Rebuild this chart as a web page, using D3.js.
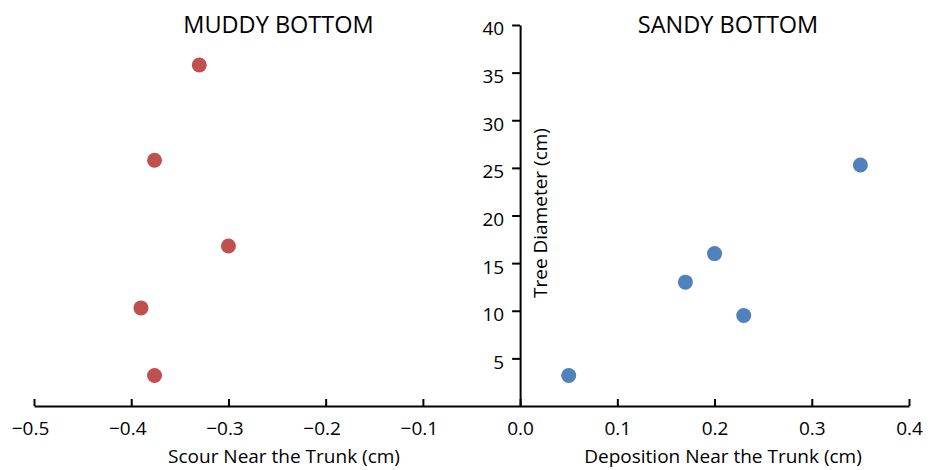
<!DOCTYPE html>
<html>
<head>
<meta charset="utf-8">
<script src="https://cdn.jsdelivr.net/npm/d3@7"></script>
<style>
  body { margin: 0; background: #fff; }
  text { font-family: "Open Sans", sans-serif; fill: #000; }
</style>
</head>
<body>
<svg id="chart"></svg>
<script>
/* data */
let muddyScour = [-0.33, -0.376, -0.30, -0.39, -0.376];
let muddyDiameter = [35.8, 25.8, 16.8, 10.3, 3.2];

let sandyDeposition = [0.05, 0.17, 0.20, 0.23, 0.35];
let sandyDiameter = [3.2, 13.0, 16.0, 9.5, 25.3];

let xTicks = [-0.5, -0.4, -0.3, -0.2, -0.1, 0.0, 0.1, 0.2, 0.3, 0.4];
let yTicks = [5, 10, 15, 20, 25, 30, 35, 40];

/* chart */
!(function() {
  let width = 942;
  let height = 470;

  let svg = d3.select("#chart")
    .attr("width", width)
    .attr("height", height);

  let x = d3.scaleLinear()
    .domain([-0.5, 0.4])
    .range([34, 909]);
  let y = d3.scaleLinear()
    .domain([0, 40])
    .range([406, 25]);

  let fmt = d3.format(".1f");

  // x axis, ticks pointing up
  let xAxis = svg.append("g")
    .attr("transform", "translate(0," + y(0) + ")")
    .call(d3.axisTop(x)
      .tickValues(xTicks)
      .tickSizeInner(7)
      .tickSizeOuter(0)
      .tickFormat(d => fmt(d).replace("-", "\u2013")));
  xAxis.select(".domain").attr("stroke-width", 2);
  xAxis.selectAll(".tick line").attr("stroke-width", 2);
  xAxis.selectAll(".tick text")
    .attr("y", 29)
    .attr("dy", 0)
    .attr("dx", d => d < 0 ? -4 : 0)
    .style("font-size", "19px")
    .style("font-family", "'Open Sans', sans-serif");

  // y axis at x = 0
  let yAxis = svg.append("g")
    .attr("transform", "translate(" + x(0) + ",0)")
    .call(d3.axisLeft(y)
      .tickValues(yTicks)
      .tickSizeInner(8)
      .tickSizeOuter(0));
  yAxis.select(".domain").attr("stroke-width", 2);
  yAxis.selectAll(".tick line").attr("stroke-width", 2);
  yAxis.selectAll(".tick text")
    .attr("x", -16)
    .attr("dy", "0.52em")
    .style("font-size", "19px")
    .style("font-family", "'Open Sans', sans-serif");

  // points
  svg.append("g").selectAll("circle")
    .data(muddyScour)
    .enter().append("circle")
    .attr("cx", d => x(d))
    .attr("cy", (d, i) => y(muddyDiameter[i]))
    .attr("r", 7.5)
    .style("fill", "#c0504d");

  svg.append("g").selectAll("circle")
    .data(sandyDeposition)
    .enter().append("circle")
    .attr("cx", d => x(d))
    .attr("cy", (d, i) => y(sandyDiameter[i]))
    .attr("r", 7.5)
    .style("fill", "#4f81bd");

  // titles
  svg.append("text")
    .attr("x", 278.5)
    .attr("y", 33)
    .attr("text-anchor", "middle")
    .style("font-size", "23.5px")
    .text("MUDDY BOTTOM");

  svg.append("text")
    .attr("x", 728)
    .attr("y", 33)
    .attr("text-anchor", "middle")
    .style("font-size", "23.5px")
    .text("SANDY BOTTOM");

  // axis labels
  svg.append("text")
    .attr("x", 284)
    .attr("y", 463)
    .attr("text-anchor", "middle")
    .style("font-size", "19px")
    .text("Scour Near the Trunk (cm)");

  svg.append("text")
    .attr("x", 723)
    .attr("y", 463)
    .attr("text-anchor", "middle")
    .style("font-size", "19px")
    .text("Deposition Near the Trunk (cm)");

  svg.append("text")
    .attr("transform", "translate(547,213) rotate(-90)")
    .attr("text-anchor", "middle")
    .style("font-size", "19px")
    .text("Tree Diameter (cm)");
})();
</script>
</body>
</html>
